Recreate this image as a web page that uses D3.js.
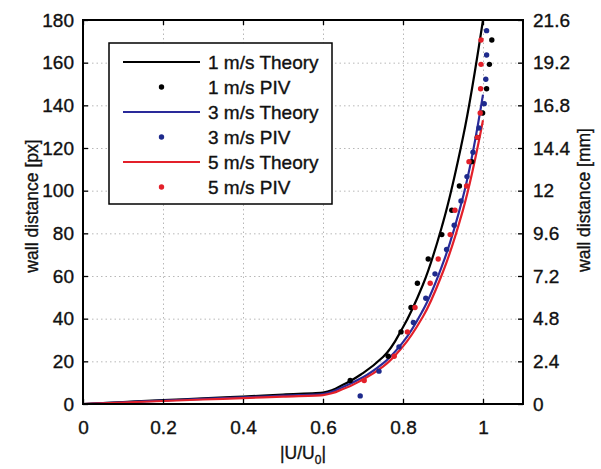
<!DOCTYPE html>
<html>
<head>
<meta charset="utf-8">
<script src="https://cdn.jsdelivr.net/npm/d3@7"></script>
<style>
  body { margin: 0; background: #fff; }
  svg text { font-family: "Liberation Sans", Arial, sans-serif; fill: #111; stroke: #111; stroke-width: 0.35px; }
  .grid line { stroke: #b8b8b8; stroke-dasharray: 1.5,3; }
  .grid path { display: none; }
  .axis path { display: none; }
  .axis line { stroke: #000; stroke-width: 1.3; }
  .axis text { font-size: 19px; }
</style>
</head>
<body>
<div id="wrapper"></div>
<script>
// theory curves: [|U/U0|, wall distance px]
const theory1 = [[0,0],[0.1,0.9],[0.2,1.8],[0.3,2.6],[0.4,3.5],[0.5,4.4],[0.6,5.3],[0.65,9],[0.7,14.5],[0.75,22],[0.8,36],[0.85,56],[0.9,85],[0.95,125],[1.0,180]]
const theory3 = [[0,0],[0.1,0.8],[0.2,1.6],[0.3,2.4],[0.4,3.1],[0.5,3.9],[0.6,4.7],[0.65,8],[0.7,12.5],[0.75,19],[0.8,29],[0.85,44],[0.9,66],[0.95,97],[1.0,145]]
const theory5 = [[0,0],[0.1,0.7],[0.2,1.4],[0.3,2.1],[0.4,2.8],[0.5,3.5],[0.6,4.2],[0.65,7],[0.7,11.5],[0.75,17.5],[0.8,27],[0.85,41],[0.9,62],[0.95,91],[1.0,133]]

// PIV measurements
const piv1 = [[0.668,11],[0.763,22.4],[0.795,33.8],[0.82,45.2],[0.836,56.6],[0.863,68],[0.897,79.4],[0.922,90.8],[0.941,102.2],[0.972,113.6],[0.986,125],[0.999,136.4],[1.009,147.8],[1.016,159.2],[1.022,170.6]]
const piv3 = [[0.693,3.8],[0.74,15.4],[0.79,26.8],[0.826,38.2],[0.857,49.6],[0.88,61],[0.909,72.4],[0.928,83.8],[0.945,95.2],[0.96,106.6],[0.975,118],[0.99,129.4],[1.003,140.8],[1.007,152.2],[1.009,163.6],[1.009,175]]
const piv5 = [[0.703,11],[0.778,22.4],[0.811,33.8],[0.83,45.2],[0.868,56.6],[0.888,68],[0.918,79.4],[0.93,90.8],[0.959,102.2],[0.965,113.6],[0.986,125],[0.993,136.4],[0.994,147.8],[0.995,159.2],[0.995,170.6]]

const xTicks = [0, 0.2, 0.4, 0.6, 0.8, 1]
const yTicks = [0, 20, 40, 60, 80, 100, 120, 140, 160, 180]
const mmTicks = [0, 2.4, 4.8, 7.2, 9.6, 12, 14.4, 16.8, 19.2, 21.6]

const series = [
  { name: "1 m/s Theory", type: "line", data: theory1, color: "#000000" },
  { name: "1 m/s PIV", type: "dot", data: piv1, color: "#000000" },
  { name: "3 m/s Theory", type: "line", data: theory3, color: "#2a2a9a" },
  { name: "3 m/s PIV", type: "dot", data: piv3, color: "#1e2a8c" },
  { name: "5 m/s Theory", type: "line", data: theory5, color: "#e3202a" },
  { name: "5 m/s PIV", type: "dot", data: piv5, color: "#e3202a" },
]

const width = 601
const height = 469
const margin = { top: 20, right: 78, bottom: 65, left: 83 }
const boundedWidth = width - margin.left - margin.right
const boundedHeight = height - margin.top - margin.bottom

const svg = d3.select("#wrapper").append("svg")
    .attr("width", width)
    .attr("height", height)

const bounds = svg.append("g")
    .attr("transform", `translate(${margin.left},${margin.top})`)

const xScale = d3.scaleLinear().domain([0, 1.1]).range([0, boundedWidth])
const yScale = d3.scaleLinear().domain([0, 180]).range([boundedHeight, 0])
const mmScale = d3.scaleLinear().domain([0, 21.6]).range([boundedHeight, 0])

// grid
bounds.append("g").attr("class", "grid")
    .call(d3.axisBottom(xScale).tickValues(xTicks).tickSize(boundedHeight).tickFormat(""))
bounds.append("g").attr("class", "grid")
    .call(d3.axisLeft(yScale).tickValues(yTicks).tickSize(-boundedWidth).tickFormat(""))

// data
const lineGenerator = d3.line()
    .x(d => xScale(d[0]))
    .y(d => yScale(d[1]))
    .curve(d3.curveMonotoneY)

series.filter(s => s.type == "line").forEach(s => {
  bounds.append("path")
      .attr("d", lineGenerator(s.data))
      .attr("fill", "none")
      .attr("stroke", s.color)
      .attr("stroke-width", 2.2)
})

series.filter(s => s.type == "dot").forEach(s => {
  bounds.selectAll(null)
    .data(s.data)
    .enter().append("circle")
      .attr("cx", d => xScale(d[0]))
      .attr("cy", d => yScale(d[1]))
      .attr("r", 2.7)
      .attr("fill", s.color)
})

// axes
const fmt = d => +d.toFixed(1)
bounds.append("g").attr("class", "axis")
    .attr("transform", `translate(0,${boundedHeight})`)
    .call(d3.axisBottom(xScale).tickValues(xTicks).tickSizeInner(-5).tickSizeOuter(0).tickPadding(17).tickFormat(fmt))
bounds.append("g").attr("class", "axis")
    .call(d3.axisTop(xScale).tickValues(xTicks).tickSizeInner(-5).tickSizeOuter(0).tickFormat(""))
bounds.append("g").attr("class", "axis")
    .call(d3.axisLeft(yScale).tickValues(yTicks).tickSizeInner(-5).tickSizeOuter(0).tickPadding(9).tickFormat(fmt))
bounds.append("g").attr("class", "axis")
    .attr("transform", `translate(${boundedWidth},0)`)
    .call(d3.axisRight(mmScale).tickValues(mmTicks).tickSizeInner(-5).tickSizeOuter(0).tickPadding(10).tickFormat(fmt))

bounds.append("rect")
    .attr("width", boundedWidth)
    .attr("height", boundedHeight)
    .attr("fill", "none")
    .attr("stroke", "#000")
    .attr("stroke-width", 2)

// axis labels
svg.append("text")
    .attr("transform", `translate(38,${margin.top + boundedHeight / 2 - 6}) rotate(-90)`)
    .attr("text-anchor", "middle")
    .style("font-size", "17.5px")
    .text("wall distance [px]")

svg.append("text")
    .attr("transform", `translate(590,${margin.top + boundedHeight / 2 - 12}) rotate(-90)`)
    .attr("text-anchor", "middle")
    .style("font-size", "17.5px")
    .text("wall distance [mm]")

const xLabel = svg.append("text")
    .attr("x", margin.left + xScale(0.55))
    .attr("y", 459)
    .attr("text-anchor", "middle")
    .style("font-size", "17.5px")
xLabel.append("tspan").text("|U/U")
xLabel.append("tspan").attr("dy", 5).style("font-size", "12px").text("0")
xLabel.append("tspan").attr("dy", -5).text("|")

// legend
const legend = svg.append("g").attr("transform", "translate(109,43)")
legend.append("rect")
    .attr("width", 223)
    .attr("height", 161)
    .attr("fill", "#fff")
    .attr("stroke", "#000")
    .attr("stroke-width", 1.5)

const rows = legend.selectAll("g")
  .data(series)
  .enter().append("g")
    .attr("transform", (d, i) => `translate(0,${19 + i * 25})`)

rows.filter(d => d.type == "line").append("line")
    .attr("x1", 14).attr("x2", 91)
    .attr("stroke", d => d.color)
    .attr("stroke-width", 2.2)
rows.filter(d => d.type == "dot").append("circle")
    .attr("cx", 52.5)
    .attr("r", 2.7)
    .attr("fill", d => d.color)
rows.append("text")
    .attr("x", 99)
    .attr("dy", "0.35em")
    .style("font-size", "19px")
    .text(d => d.name)
</script>
</body>
</html>
